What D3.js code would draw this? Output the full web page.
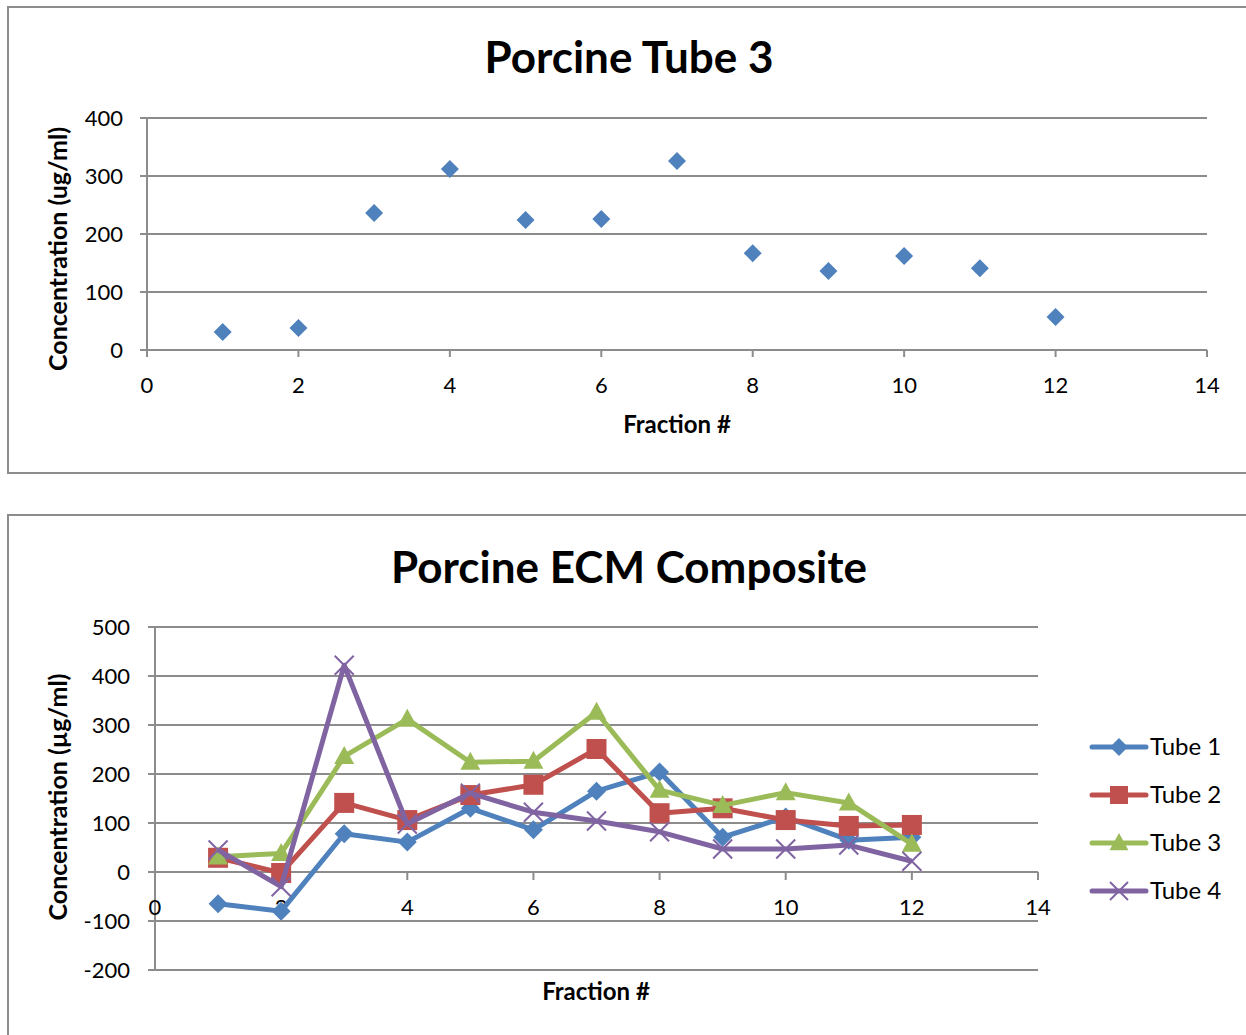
<!DOCTYPE html>
<html>
<head>
<meta charset="utf-8">
<script src="https://cdn.jsdelivr.net/npm/d3@7"></script>
<style>
body { margin: 0; background: #fff; }
text { font-family: Lato, "Open Sans", sans-serif; fill: #000; }
</style>
</head>
<body>
<script>
// data
var fractions = [1, 2, 3, 4, 5, 6, 7, 8, 9, 10, 11, 12];
var tube1 = [-65, -80, 78, 61, 130, 86, 165, 204, 71, 112, 65, 71];
var tube2 = [29, -2, 141, 106, 157, 178, 251, 120, 130, 106, 94, 96];
var tube3 = [31, 38, 236, 312, 224, 226, 326, 167, 136, 162, 141, 57];
var tube4 = [45, -30, 422, 98, 161, 122, 104, 82, 47, 47, 55, 22];
var seriesNames = ["Tube 1", "Tube 2", "Tube 3", "Tube 4"];
var xTicks = [0, 2, 4, 6, 8, 10, 12, 14];
var yTicksTop = [0, 100, 200, 300, 400];
var yTicksBottom = [-200, -100, 0, 100, 200, 300, 400, 500];

var colors = ["#4F81BD", "#C0504D", "#9BBB59", "#8064A2"];
var shapes = ["diamond", "square", "triangle", "cross"];
var gridColor = "#8c8c8c";

var svg = d3.select("body").append("svg")
	.attr("width", 1246)
	.attr("height", 1035);

// marker path builder
function marker(shape, s) {
	if (shape == "diamond") return "M0," + (-s) + "L" + s + ",0L0," + s + "L" + (-s) + ",0Z";
	if (shape == "square") return "M" + (-s) + "," + (-s) + "h" + (2*s) + "v" + (2*s) + "h" + (-2*s) + "Z";
	if (shape == "triangle") return "M0," + (-s*1.1) + "L" + (s*1.05) + "," + (s*0.8) + "L" + (-s*1.05) + "," + (s*0.8) + "Z";
	return "M" + (-s) + "," + (-s) + "L" + s + "," + s + "M" + s + "," + (-s) + "L" + (-s) + "," + s;
}

function drawMarker(g, shape, color, x, y, s) {
	if (shape == "cross") {
		g.append("path").attr("transform", "translate(" + x + "," + y + ")")
			.attr("d", marker(shape, s))
			.attr("fill", "none").attr("stroke", color).attr("stroke-width", 2);
	} else {
		g.append("path").attr("transform", "translate(" + x + "," + y + ")")
			.attr("d", marker(shape, s))
			.attr("fill", color);
	}
}

// ---------- chart 1: Porcine Tube 3 ----------
var c1 = svg.append("g");
c1.append("rect").attr("x", 8).attr("y", 7).attr("width", 1250).attr("height", 466)
	.attr("fill", "none").attr("stroke", gridColor).attr("stroke-width", 2);

var x1 = d3.scaleLinear().domain([0, 14]).range([147, 1207]);
var y1 = d3.scaleLinear().domain([0, 400]).range([350, 118]);

c1.selectAll(".grid").data(yTicksTop).enter().append("line")
	.attr("x1", 140).attr("x2", 1207)
	.attr("y1", function(d){ return y1(d); }).attr("y2", function(d){ return y1(d); })
	.attr("stroke", gridColor).attr("stroke-width", 2);

c1.append("line").attr("x1", x1(0)).attr("x2", x1(0)).attr("y1", y1(400)).attr("y2", y1(0) + 7)
	.attr("stroke", gridColor).attr("stroke-width", 2);

c1.selectAll(".xt").data(xTicks).enter().append("line")
	.attr("x1", function(d){ return x1(d); }).attr("x2", function(d){ return x1(d); })
	.attr("y1", y1(0)).attr("y2", y1(0) + 7)
	.attr("stroke", gridColor).attr("stroke-width", 2);

c1.selectAll(".yl").data(yTicksTop).enter().append("text")
	.attr("x", 123).attr("y", function(d){ return y1(d); })
	.attr("dy", "0.35em").attr("text-anchor", "end")
	.style("font-size", "22px")
	.text(function(d){ return d; });

c1.selectAll(".xl").data(xTicks).enter().append("text")
	.attr("x", function(d){ return x1(d); }).attr("y", 385)
	.attr("dy", "0.35em").attr("text-anchor", "middle")
	.style("font-size", "22px")
	.text(function(d){ return d; });

c1.append("text").attr("x", 629).attr("y", 73).attr("text-anchor", "middle")
	.style("font-size", "44px").style("font-weight", "bold")
	.text("Porcine Tube 3");

c1.append("text").attr("x", 677).attr("y", 425).attr("dy", "0.35em").attr("text-anchor", "middle")
	.style("font-size", "24px").style("font-weight", "bold")
	.text("Fraction #");

c1.append("text").attr("transform", "translate(58,249) rotate(-90)")
	.attr("dy", "0.35em").attr("text-anchor", "middle")
	.style("font-size", "25px").style("font-weight", "bold")
	.text("Concentration (ug/ml)");

fractions.forEach(function(f, i) {
	drawMarker(c1, "diamond", colors[0], x1(f), y1(tube3[i]), 9);
});

// ---------- chart 2: Porcine ECM Composite ----------
var c2 = svg.append("g");
c2.append("rect").attr("x", 8).attr("y", 515).attr("width", 1250).attr("height", 540)
	.attr("fill", "none").attr("stroke", gridColor).attr("stroke-width", 2);

var x2 = d3.scaleLinear().domain([0, 14]).range([155, 1038]);
var y2 = d3.scaleLinear().domain([-200, 500]).range([970, 627]);

c2.selectAll(".grid").data(yTicksBottom).enter().append("line")
	.attr("x1", 148).attr("x2", 1038)
	.attr("y1", function(d){ return y2(d); }).attr("y2", function(d){ return y2(d); })
	.attr("stroke", gridColor).attr("stroke-width", 2);

c2.append("line").attr("x1", x2(0)).attr("x2", x2(0)).attr("y1", y2(500)).attr("y2", y2(-200))
	.attr("stroke", gridColor).attr("stroke-width", 2);

c2.selectAll(".xt").data(xTicks).enter().append("line")
	.attr("x1", function(d){ return x2(d); }).attr("x2", function(d){ return x2(d); })
	.attr("y1", y2(0)).attr("y2", y2(0) + 8)
	.attr("stroke", gridColor).attr("stroke-width", 2);

c2.selectAll(".yl").data(yTicksBottom).enter().append("text")
	.attr("x", 130).attr("y", function(d){ return y2(d); })
	.attr("dy", "0.35em").attr("text-anchor", "end")
	.style("font-size", "22px")
	.text(function(d){ return d; });

c2.selectAll(".xl").data(xTicks).enter().append("text")
	.attr("x", function(d){ return x2(d); }).attr("y", 907)
	.attr("dy", "0.35em").attr("text-anchor", "middle")
	.style("font-size", "22px")
	.text(function(d){ return d; });

c2.append("text").attr("x", 629).attr("y", 583).attr("text-anchor", "middle")
	.style("font-size", "44px").style("font-weight", "bold")
	.text("Porcine ECM Composite");

c2.append("text").attr("x", 596).attr("y", 992).attr("dy", "0.35em").attr("text-anchor", "middle")
	.style("font-size", "24px").style("font-weight", "bold")
	.text("Fraction #");

c2.append("text").attr("transform", "translate(58,797) rotate(-90)")
	.attr("dy", "0.35em").attr("text-anchor", "middle")
	.style("font-size", "25px").style("font-weight", "bold")
	.text("Concentration (µg/ml)");

var allSeries = [tube1, tube2, tube3, tube4];
var line = d3.line()
	.x(function(d, i){ return x2(fractions[i]); })
	.y(function(d){ return y2(d); });

allSeries.forEach(function(vals, k) {
	var g = c2.append("g");
	g.append("path").attr("d", line(vals))
		.attr("fill", "none").attr("stroke", colors[k]).attr("stroke-width", 5)
		.attr("stroke-linejoin", "round");
	vals.forEach(function(v, i) {
		drawMarker(g, shapes[k], colors[k], x2(fractions[i]), y2(v), k == 1 ? 10 : 9.5);
	});
});

// legend
var leg = c2.selectAll(".leg").data(seriesNames).enter().append("g")
	.attr("transform", function(d, i){ return "translate(0," + (747 + i * 48) + ")"; });
leg.append("line").attr("x1", 1092).attr("x2", 1146).attr("y1", 0).attr("y2", 0)
	.attr("stroke", function(d, i){ return colors[i]; }).attr("stroke-width", 5)
	.attr("stroke-linecap", "round");
leg.each(function(d, i) {
	drawMarker(d3.select(this), shapes[i], colors[i], 1119, 0, 9);
});
leg.append("text").attr("x", 1150).attr("y", 0).attr("dy", "0.35em")
	.style("font-size", "24px")
	.text(function(d){ return d; });
</script>
</body>
</html>
